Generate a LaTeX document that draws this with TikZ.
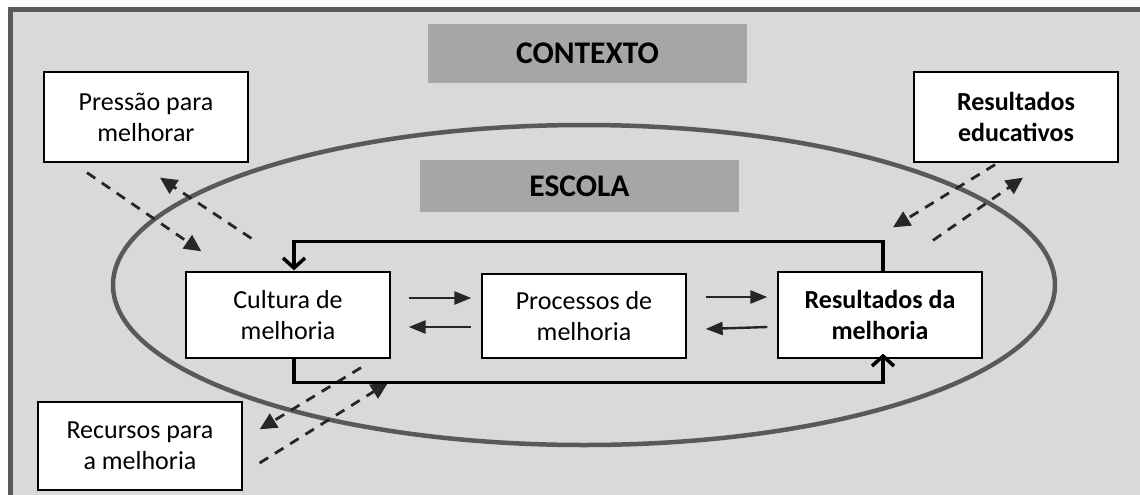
\documentclass[tikz,border=0pt]{standalone}
\usepackage{fontspec}
\setmainfont{Carlito}
\usetikzlibrary{arrows.meta,calc}
\definecolor{bg}{HTML}{D9D9D9}
\definecolor{framec}{HTML}{595959}
\definecolor{lab}{HTML}{A6A6A6}
\definecolor{ink}{HTML}{262626}
\begin{document}
\begin{tikzpicture}[x=1pt,y=-1pt,
  font=\fontsize{26}{31}\selectfont,
  box/.style={draw=black, line width=1.3pt, fill=white, minimum width=204pt, align=center, inner sep=0pt},
  boldbox/.style={box, font=\fontsize{26}{31}\selectfont\bfseries},
  tag/.style={fill=lab, inner sep=0pt, font=\fontsize{31.5}{36}\selectfont\bfseries},
  dasharrow/.style={ink, line width=2.8pt, dash pattern=on 10pt off 8pt, -{Triangle[length=17pt,width=16pt]}},
  flow/.style={ink, line width=2.4pt, -{Triangle[length=17pt,width=13pt]}},
  loopline/.style={black, line width=3.5pt, -{Straight Barb[length=10pt,width=22pt]}}]
\clip (0,0) rectangle (1140,495);
\fill[white] (0,0) rectangle (1140,495);
\draw[framec, line width=5pt, fill=bg] (10.5,9.5) rectangle (1170,530);
% labels
\node[tag, minimum width=319pt, minimum height=59pt] (ctx) at (587.5,53.5) {CONTEXTO};
\node[tag, minimum width=319pt, minimum height=52pt] (esc) at (579.5,186) {ESCOLA};
% school ellipse
\draw[framec, line width=4.5pt] (584,285) ellipse [x radius=471pt, y radius=160pt];
% boxes
\node[box, minimum height=90pt] (press) at (146,117) {Pressão para\\melhorar};
\node[boldbox, minimum height=90pt] (rese) at (1016,117) {Resultados\\educativos};
\node[box, minimum height=86pt] (cult) at (288,315) {Cultura de\\melhoria};
\node[box, minimum height=84pt] (proc) at (584,316) {Processos de\\melhoria};
\node[boldbox, minimum height=86pt] (resm) at (880,315) {Resultados da\\melhoria};
\node[box, minimum height=88pt] (rec) at (140,446) {Recursos para\\a melhoria};
% dashed exchanges with the context
\draw[dasharrow] ($(press.south)+(-59,10)$) -- ($(cult.north west)+(16,-20)$);
\draw[dasharrow] ($(cult.north west)+(66,-33)$) -- ($(press.south)+(14,15)$);
\draw[dasharrow] ($(rese.south)+(-21,2)$) -- ($(resm.north)+(13,-44)$);
\draw[dasharrow] ($(resm.north)+(53,-31)$) -- ($(rese.south)+(7,15)$);
\draw[dasharrow] ($(cult.south)+(73,9)$) -- ($(rec.north east)+(17,28)$);
\draw[dasharrow] ($(rec.east)+(17,17)$) -- ($(cult.south)+(100,24)$);
% flows between boxes
\draw[flow] ($(cult.east)+(18,-17)$) -- ($(proc.west)+(-10,-18)$);
\draw[flow] ($(proc.west)+(-10,11)$) -- ($(cult.east)+(18,12)$);
\draw[flow] ($(proc.east)+(19,-19)$) -- ($(resm.west)+(-10,-18)$);
\draw[flow] ($(resm.west)+(-10,12)$) -- ($(proc.east)+(19,13)$);
% feedback loop
\draw[loopline] ($(resm.north)+(3,0)$) -- ++(0,-30) -| ($(cult.north)+(6,-1)$);
\draw[loopline] ($(cult.south)+(6,0)$) -- ++(0,24) -| ($(resm.south)+(3,-5)$);
\end{tikzpicture}
\end{document}
